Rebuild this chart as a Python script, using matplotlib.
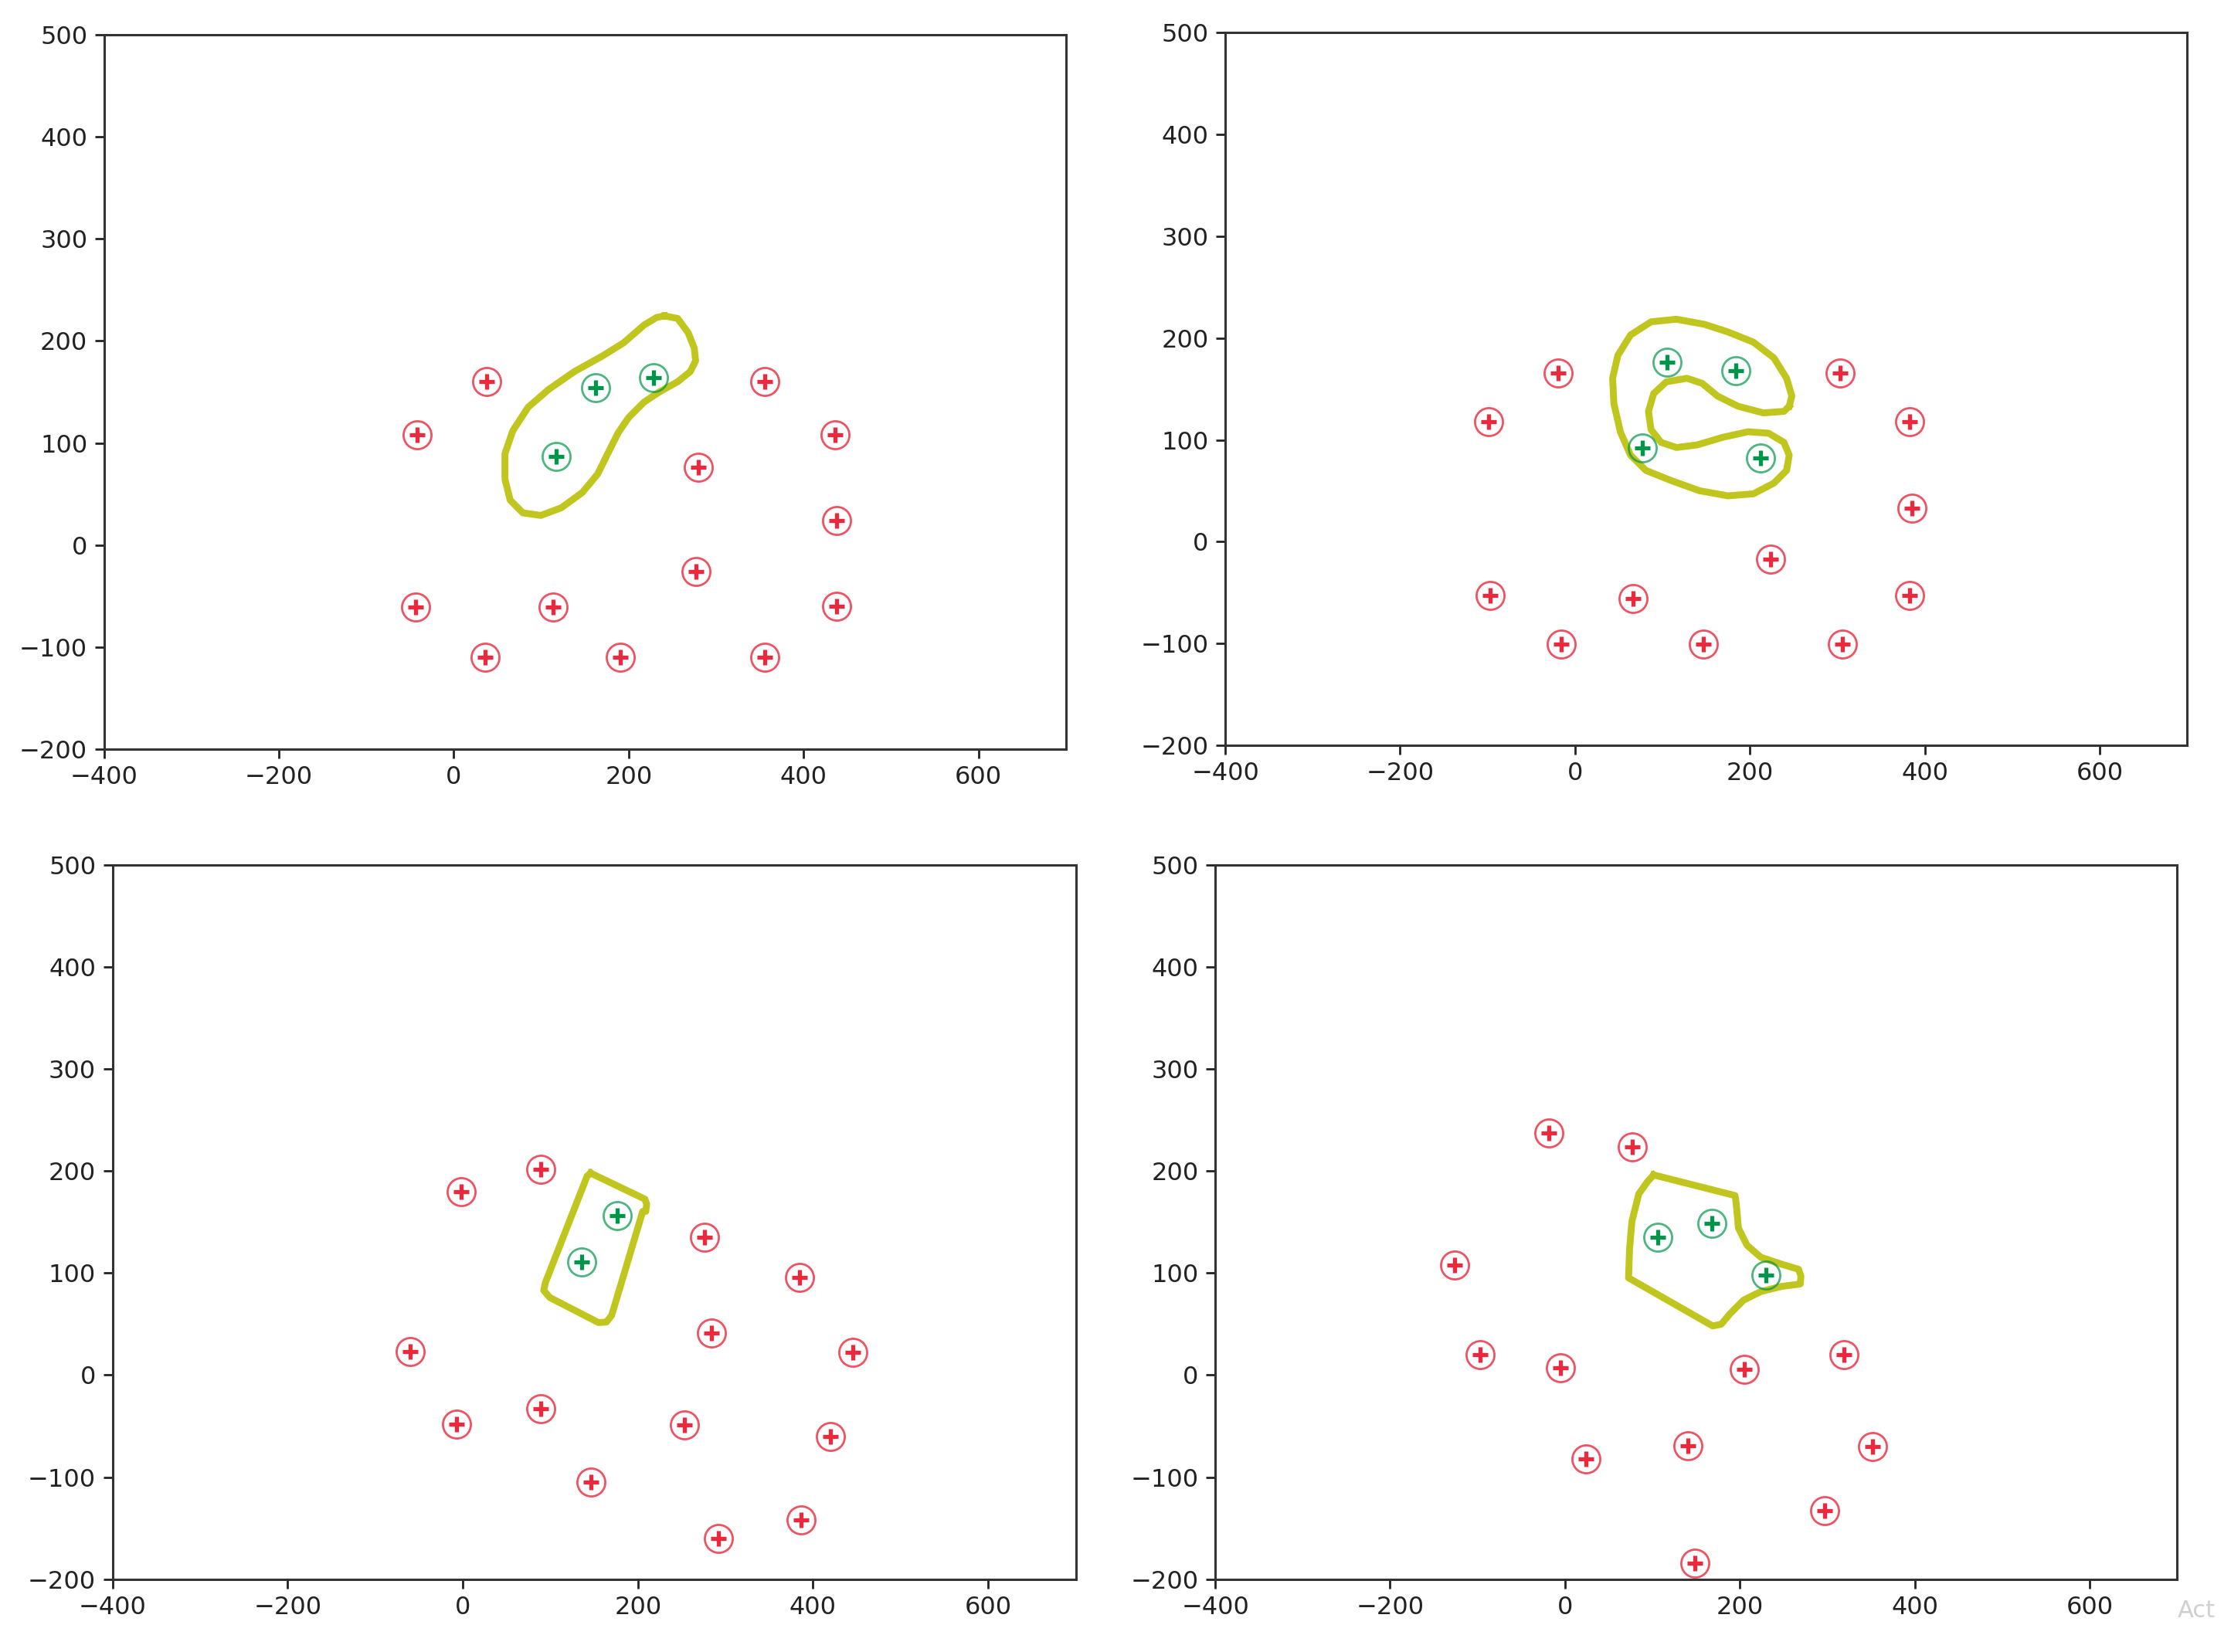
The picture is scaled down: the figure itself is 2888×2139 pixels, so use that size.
import matplotlib.pyplot as plt

# ---- panel A (top left) ----
a_neg_x = [38, -42, 356, 436, 280, 438, -44, 114, 277, 438, 36, 190, 356]
a_neg_y = [160, 108, 160, 108, 76, 24, -61, -61, -26, -60, -110, -110, -110]
a_pos_x = [117, 162, 228]
a_pos_y = [87, 154, 164]
a_bnd_x = [241, 256, 268, 275, 276.5, 270.5, 256, 235, 217.5, 200, 188, 176, 164.5, 147,
           123, 99.5, 79, 64.5, 58.5, 58.5, 67.5, 85, 108.5, 138, 170.5, 194, 217.5, 232]
a_bnd_y = [224.5, 222, 208, 193, 180.5, 170, 160, 150, 140, 125, 110, 89.5, 69.5, 51.5,
           36.5, 29, 31.5, 44, 64.5, 89.5, 112, 135, 152.5, 170, 185.5, 198, 215.5, 223]

# ---- panel B (top right) ----
b_neg_x = [-19, -99, 303, 383, 385, 224, -97, 66, 383, -16, 147, 306]
b_neg_y = [166, 118, 166, 118, 33, -17, -53, -56, -53, -101, -101, -101]
b_pos_x = [105, 184, 77, 212]
b_pos_y = [176, 168, 92, 82]
b_bnd_x = [245, 248, 242, 227.5, 204, 175, 148, 116, 87, 63.5, 49, 43, 44.5, 52, 63.5, 81,
           110, 142.5, 175, 204, 227.5, 242, 245, 239, 221.5, 198, 169, 139.5, 116, 98.5,
           87, 84, 90, 104.5, 128, 145.5, 163, 186.5, 215.5, 239]
b_bnd_y = [133, 143, 160.5, 180.5, 196, 206, 213.5, 218.5, 216, 203, 183, 160.5, 135.5,
           107.5, 85, 70, 60, 50, 45, 47, 57.5, 70, 85, 97.5, 106.5, 108, 102.5, 95, 92.5,
           97.5, 110, 128, 145.5, 157, 160.5, 155.5, 143, 133, 126.5, 128]

# ---- panel C (bottom left) ----
c_neg_x = [-2, 89, -60, -7, 89, 276, 385, 284, 445, 253, 420, 146, 292, 386]
c_neg_y = [180, 202, 23, -48, -33, 135, 96, 41, 22, -49, -60, -105, -160, -142]
c_pos_x = [136, 176]
c_pos_y = [111, 156]
c_bnd_x = [146, 208, 210, 209, 205.5, 170, 164, 155, 99.5, 92.5, 94.5, 142]
c_bnd_y = [198, 172.5, 167.5, 160.5, 160.5, 58.5, 52, 51.5, 76, 83, 91, 195]

# ---- panel D (bottom right) ----
d_neg_x = [-18, 77, -126, -97, -5, 205, 319, 24, 141, 352, 297, 149]
d_neg_y = [237, 224, 108, 20, 7, 6, 20, -82, -69, -70, -133, -184]
d_pos_x = [106, 168, 230]
d_pos_y = [135, 149, 98]
d_bnd_x = [101.4, 194.5, 195.7, 198.4, 208.2, 224, 247.5, 267.2, 269.9, 269.1, 247.5, 224,
           204.3, 188.6, 178.8, 168.9, 72.7, 73.9, 76.6, 84.5, 94.3]
d_bnd_y = [196.2, 176, 169.3, 144.1, 127.3, 115.5, 108.8, 103.7, 97, 89.3, 86.9, 81.9,
           73.5, 60, 49.9, 48.2, 95.3, 123.9, 150.8, 177.7, 189.5]

panels = [
    (a_neg_x, a_neg_y, a_pos_x, a_pos_y, a_bnd_x, a_bnd_y),
    (b_neg_x, b_neg_y, b_pos_x, b_pos_y, b_bnd_x, b_bnd_y),
    (c_neg_x, c_neg_y, c_pos_x, c_pos_y, c_bnd_x, c_bnd_y),
    (d_neg_x, d_neg_y, d_pos_x, d_pos_y, d_bnd_x, d_bnd_y),
]

# axes boxes in figure fractions [left, bottom, width, height]
boxes = [
    [0.0466, 0.5465, 0.4312, 0.4325],
    [0.5492, 0.5489, 0.4311, 0.4313],
    [0.0504, 0.0441, 0.4318, 0.4323],
    [0.5447, 0.0441, 0.4311, 0.4323],
]

red = "#eb283c"
green = "#00964a"
bound = "#c0c61e"

fig = plt.figure(figsize=(14.44, 10.695), dpi=200)

for (nx, ny, px, py, bx, by), box in zip(panels, boxes):
    ax = fig.add_axes(box)
    ax.plot(bx + bx[:1], by + by[:1], color=bound, lw=3.2,
            solid_joinstyle="round", zorder=2)
    ax.plot(nx, ny, "o", ms=13, mfc="none", mec=red, mew=1.0, alpha=0.8, zorder=3)
    ax.plot(nx, ny, "+", ms=7.5, mec=red, mew=1.9, zorder=4)
    ax.plot(px, py, "o", ms=13, mfc="none", mec=green, mew=1.0, alpha=0.7, zorder=3)
    ax.plot(px, py, "+", ms=7.5, mec=green, mew=1.9, zorder=4)

    ax.set_xlim(-400, 700)
    ax.set_ylim(-200, 500)
    ax.set_xticks([-400, -200, 0, 200, 400, 600])
    ax.set_yticks([-200, -100, 0, 100, 200, 300, 400, 500])
    ax.tick_params(labelsize=11.5, length=4.2, width=1.0, colors="#222222")
    for s in ax.spines.values():
        s.set_linewidth(1.1)
        s.set_color("#333333")

fig.text(0.976, 0.018, "Act", fontsize=11, color="#d0d0d0", ha="left", va="bottom")

fig.savefig("out.png", dpi=200)
